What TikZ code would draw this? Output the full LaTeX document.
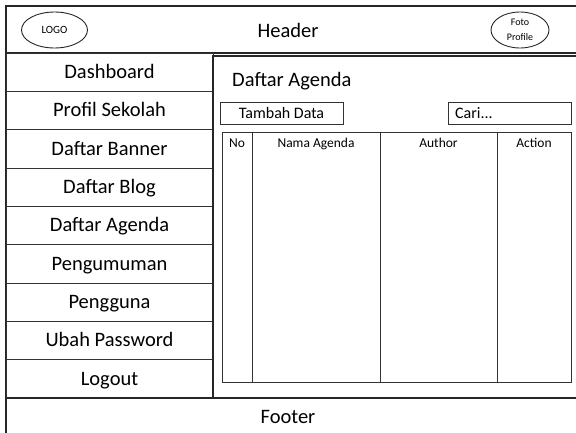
\documentclass[tikz,border=0pt]{standalone}
\usepackage{fontspec}
\setmainfont{Carlito}
\usetikzlibrary{shapes.geometric}
\tikzset{
  frame/.style={draw=black!85, line width=1.1pt},
  cell/.style={draw=black!80, line width=0.9pt},
  bigtext/.style={font=\fontsize{20.5}{22}\selectfont, text height=13pt, text depth=0pt, inner sep=0pt},
  smalltext/.style={font=\fontsize{16}{18}\selectfont, text height=10.3pt, text depth=0pt, inner sep=0pt},
  colhead/.style={font=\fontsize{13.5}{15}\selectfont, text height=8.7pt, text depth=0pt, inner sep=0pt},
  oval/.style={ellipse, draw=black!85, line width=0.9pt, inner sep=0pt, align=center},
}
\begin{document}
\begin{tikzpicture}[x=1pt,y=-1pt]
\useasboundingbox (0,0) rectangle (576,432);
\fill[white] (0,0) rectangle (576,432);

% page frame and header
\draw[frame] (6,440) -- (6,6) -- (590,6);
\draw[frame] (6,53) -- (590,53);
\node[bigtext] (header) at (288,31) {Header};
\node[oval, minimum width=66pt, minimum height=36pt, font=\fontsize{11}{12}\selectfont] (logo) at (54.5,30) {LOGO};
\node[oval, minimum width=58pt, minimum height=36pt, font=\fontsize{10}{14.5}\selectfont] (foto) at (520,30) {Foto\\Profile};

% sidebar menu
\foreach \t [count=\i from 0] in {Dashboard, Profil Sekolah, Daftar Banner, Daftar Blog, Daftar Agenda, Pengumuman, Pengguna, Ubah Password, Logout}{
  \draw[cell] (6,{53+\i*38.33}) rectangle (213,{53+(\i+1)*38.33});
  \node[bigtext] (menu\i) at (109.5,{53+(\i+0.5)*38.33}) {\t};
}

% content panel
\draw[frame] (213,398) -- (213,56) -- (590,56);

% footer
\draw[frame] (6,398) -- (590,398);
\node[bigtext] (footer) at (288,417) {Footer};

% page title and controls
\node[bigtext, anchor=west] (title) at (232,80) {Daftar Agenda};
\draw[cell] (220,102) rectangle (343,124);
\node[smalltext] (tambah) at (281.5,113) {Tambah Data};
\draw[cell] (448,102) rectangle (571,124);
\node[smalltext, anchor=west] (cari) at (455,113) {Cari...};

% data table
\draw[cell] (222,132) rectangle (571,382);
\draw[cell] (252,132) -- (252,382);
\draw[cell] (380,132) -- (380,382);
\draw[cell] (497,132) -- (497,382);
\node[colhead] (hno) at (237,143) {No};
\node[colhead] (hnama) at (316,143) {Nama Agenda};
\node[colhead] (hauthor) at (438.5,143) {Author};
\node[colhead] (haction) at (534,143) {Action};
\end{tikzpicture}
\end{document}
